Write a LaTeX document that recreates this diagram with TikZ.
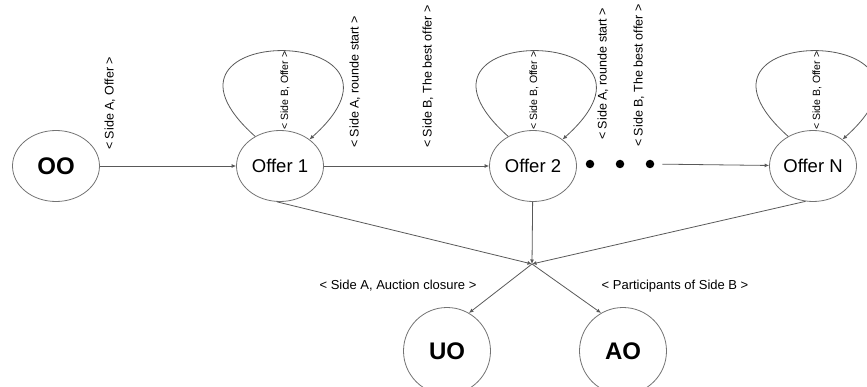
\documentclass[tikz,border=0pt]{standalone}
\usepackage{fontspec}
\setmainfont{Liberation Sans}
\usetikzlibrary{arrows.meta,shapes.geometric}

\begin{document}
\begin{tikzpicture}[x=1pt, y=-1pt,
    state/.style={draw=black!55, line width=0.8pt, ellipse, inner sep=0pt,
      minimum width=87pt, minimum height=71pt},
    offer/.style={state, font=\fontsize{18.5}{22}\selectfont},
    party/.style={state, font=\fontsize{24}{28}\selectfont\bfseries},
    vlbl/.style={rotate=90, anchor=west, inner sep=0pt, font=\fontsize{12.5}{15}\selectfont},
    looplbl/.style={vlbl, font=\fontsize{10.5}{12}\selectfont},
    hlbl/.style={inner sep=0pt, font=\fontsize{13}{16}\selectfont},
    dot/.style={circle, fill=black, inner sep=0pt, minimum size=8.5pt},
    arr/.style={draw=black!65, line width=0.8pt, -{Latex[length=4.5pt,width=4pt]}}
  ]
    \useasboundingbox (0,0) rectangle (867,387);

    % states
    \node[party] (oo) at (56,166) {OO};
    \node[offer] (o1) at (280,166) {Offer 1};
    \node[offer] (o2) at (533,166) {Offer 2};
    \node[offer] (on) at (813,166) {Offer N};
    \node[party, minimum height=87pt] (uo) at (447,351) {UO};
    \node[party, minimum height=87pt] (ao) at (623,351) {AO};
    \foreach \i/\x in {1/590,2/620,3/650}{
      \node[dot] (d\i) at (\x,164) {};
    }
    \coordinate (j) at (532,264);

    % transitions
    \draw[arr] (oo) -- (o1);
    \draw[arr] (o1) -- (o2);
    \draw[arr, shorten <=8pt] (d3) -- (on);
    \foreach \s in {o1,o2,on}{
      \draw[arr] (\s.130) .. controls +(-130,-116) and +(130,-116) .. (\s.42);
    }
    \draw[arr] (o1.265) -- (j);
    \draw[arr] (o2) -- (j);
    \draw[arr] (on.258) -- (j);
    \draw[arr] (j) -- (uo.60);
    \draw[arr] (j) -- (ao.120);

    % labels
    \node[vlbl] (l1) at (110,150) {< Side A, Offer >};
    \node[vlbl] (l2) at (355,148) {< Side A, rounde start >};
    \node[vlbl] (l3) at (428,148) {< Side B, The best offer >};
    \node[vlbl] (l4) at (603,140) {< Side A, rounde start >};
    \node[vlbl] (l5) at (639,147) {< Side B, The best offer >};
    \node[looplbl] (b1) at (285,130) {< Side B, Offer >};
    \node[looplbl] (b2) at (534,130) {< Side B, Offer >};
    \node[looplbl] (b3) at (817,130) {< Side B, Offer >};
    \node[hlbl] (cl) at (398,286) {< Side A, Auction closure >};
    \node[hlbl] (pb) at (675,286) {< Participants of Side B >};
  \end{tikzpicture}
\end{document}
